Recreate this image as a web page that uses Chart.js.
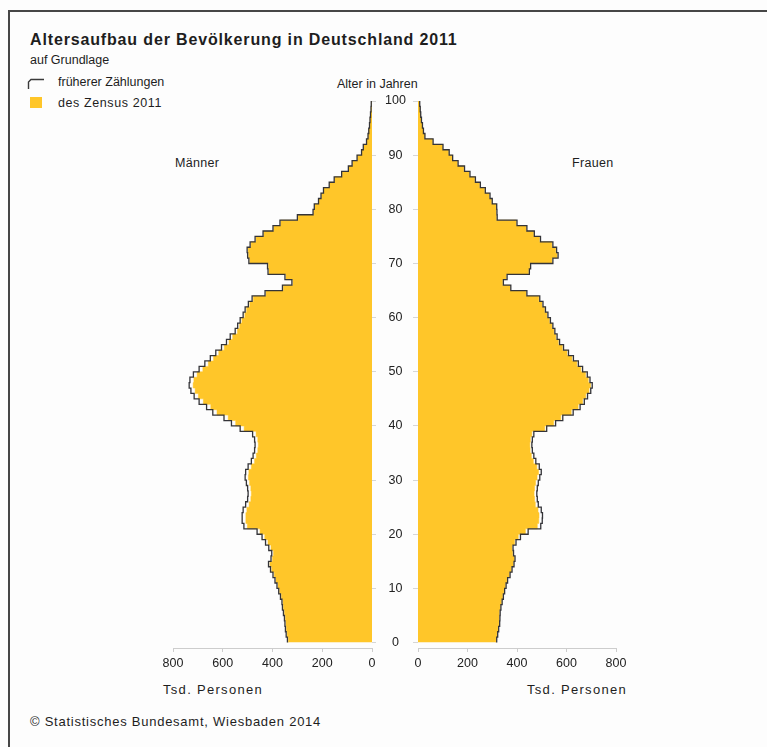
<!DOCTYPE html>
<html>
<head>
<meta charset="utf-8">
<script src="https://cdn.jsdelivr.net/npm/chart.js@4.4.1/dist/chart.umd.min.js"></script>
<style>
	body { margin: 0; background: #ffffff; }
	#page {
		position: relative;
		width: 767px;
		height: 747px;
		background: #fdfdfd;
		overflow: hidden;
		font-family: "Liberation Sans", Arial, sans-serif;
		color: #1e1e1e;
	}
	.frame-top { position: absolute; left: 8px; top: 10px; width: 759px; height: 2px; background: #474747; }
	.frame-left { position: absolute; left: 8px; top: 10px; width: 2px; height: 737px; background: #474747; }
	.txt { position: absolute; white-space: nowrap; font-size: 12.5px; line-height: 14px; }
	.title { font-size: 16px; font-weight: bold; line-height: 18px; letter-spacing: 0.85px; }
	.swatch { position: absolute; left: 30px; top: 97px; width: 12px; height: 11px; background: #ffc629; }
	canvas { position: absolute; }
</style>
</head>
<body>
<div id="page">
	<div class="frame-top"></div>
	<div class="frame-left"></div>

	<div class="txt title" style="left:30px; top:31px;">Altersaufbau der Bevölkerung in Deutschland 2011</div>
	<div class="txt" style="left:30px; top:53px;">auf Grundlage</div>

	<svg style="position:absolute; left:27px; top:76px;" width="18" height="14">
		<polyline points="1.5,13 1.5,6 4,3.5 17,3.5" fill="none" stroke="#3a3a3a" stroke-width="1.4" />
	</svg>
	<div class="txt" style="left:58px; top:75px;">früherer Zählungen</div>
	<div class="swatch"></div>
	<div class="txt" style="left:58px; top:96px; letter-spacing:0.6px;">des Zensus 2011</div>

	<div class="txt" style="left:337px; top:77px;">Alter in Jahren</div>
	<div class="txt" style="left:175px; top:156px; letter-spacing:0.3px;">Männer</div>
	<div class="txt" style="left:572px; top:156px; letter-spacing:0.3px;">Frauen</div>

	<div class="txt" style="left:163px; top:683px; font-size:13px; letter-spacing:1.3px;">Tsd. Personen</div>
	<div class="txt" style="left:527px; top:683px; font-size:13px; letter-spacing:1.3px;">Tsd. Personen</div>

	<div class="txt" style="left:30px; top:715px; font-size:13px; letter-spacing:0.75px;">© Statistisches Bundesamt, Wiesbaden 2014</div>

	<canvas id="pyramid-left" width="298" height="600" style="left:120px; top:80px;"></canvas>
	<canvas id="pyramid-right" width="260" height="600" style="left:400px; top:80px;"></canvas>
</div>

<script>
// Age bands 0..99, values in thousand persons (Tsd. Personen)
const maennerFrueher = [
	340, 345, 348, 350, 352, 356, 360, 362, 368, 375,
	382, 390, 398, 408, 416, 406, 403, 415, 428, 442,
	462, 515, 522, 522, 518, 508, 500, 498, 500, 505,
	510, 508, 498, 485, 478, 472, 470, 472, 480, 530,
	565, 595, 640, 665, 695, 715, 728, 735, 732, 718,
	695, 672, 650, 628, 605, 585, 570, 550, 540, 530,
	518, 510, 497, 482, 430, 360, 322, 350, 418, 420,
	495, 500, 502, 490, 470, 438, 398, 370, 300, 237,
	232, 215, 205, 195, 172, 152, 122, 95, 80, 60,
	42, 35, 22, 16, 13, 10, 8, 6, 4, 3,
];
const maennerZensus = [
	336, 341, 344, 346, 348, 352, 356, 358, 364, 371,
	378, 386, 393, 403, 410, 400, 396, 406, 418, 431,
	450, 501, 507, 507, 503, 494, 487, 485, 487, 492,
	497, 495, 485, 472, 465, 459, 457, 459, 466, 514,
	548, 578, 623, 648, 678, 698, 711, 719, 716, 703,
	680, 658, 637, 616, 594, 575, 560, 541, 532, 523,
	511, 504, 491, 477, 426, 356, 318, 346, 414, 416,
	491, 496, 498, 486, 466, 435, 395, 367, 297, 235,
	230, 213, 203, 193, 170, 150, 120, 93, 78, 58,
	41, 34, 21, 15, 12, 9, 7, 5, 3, 2,
];
const frauenFrueher = [
	318, 322, 326, 330, 331, 332, 335, 340, 345, 350,
	356, 362, 372, 380, 388, 392, 386, 384, 396, 414,
	445, 496, 502, 503, 498, 486, 482, 480, 482, 486,
	492, 498, 490, 476, 468, 462, 460, 462, 468, 520,
	556, 585, 627, 655, 672, 685, 698, 704, 695, 684,
	665, 648, 628, 608, 588, 572, 562, 553, 545, 535,
	525, 515, 505, 492, 440, 375, 345, 360, 450, 455,
	545, 566, 560, 545, 495, 470, 440, 400, 320, 319,
	318, 300, 291, 272, 252, 232, 210, 188, 162, 140,
	126, 101, 61, 28, 22, 18, 14, 11, 9, 7,
];
const frauenZensus = [
	315, 319, 323, 327, 328, 329, 332, 337, 342, 347,
	353, 359, 369, 377, 385, 389, 382, 380, 390, 405,
	434, 482, 488, 489, 485, 474, 471, 469, 471, 475,
	481, 487, 480, 466, 458, 453, 452, 454, 460, 512,
	548, 577, 619, 647, 665, 678, 691, 697, 688, 677,
	658, 642, 622, 602, 583, 567, 557, 549, 541, 531,
	521, 511, 501, 488, 437, 372, 342, 357, 447, 452,
	541, 562, 556, 541, 491, 467, 437, 397, 317, 316,
	315, 297, 288, 269, 249, 229, 207, 185, 159, 137,
	124, 99, 59, 27, 21, 17, 13, 10, 8, 6,
];

const ageTicks = [0, 10, 20, 30, 40, 50, 60, 70, 80, 90, 100];
const valueTicks = [0, 200, 400, 600, 800];

const colorZensus = "#ffc629";
const colorFrueher = "#343438";
const colorAxis = "#cdcdcd";

Chart.defaults.font.family = '"Liberation Sans", Arial, sans-serif';
Chart.defaults.font.size = 12.5;
Chart.defaults.color = "#222222";

// one point per band edge, drawn as a staircase (horizontal step first, then vertical edge)
function stepPoints(values) {
	let pts = [{ x: values[0], y: 0 }];
	values.forEach((v, age) => pts.push({ x: v, y: age + 1 }));
	return pts;
}

function setTicks(list) {
	return (scale) => {
		scale.ticks = list.map((v) => ({ value: v }));
	};
}

function buildSide(canvasId, frueher, zensus, isLeft) {
	let ctx = document.getElementById(canvasId).getContext("2d");

	let yAxis = {
		type: "linear",
		min: -1,
		max: 100,
		position: isLeft ? "right" : "left",
		afterBuildTicks: setTicks(ageTicks),
		afterFit: (scale) => {
			scale.width = isLeft ? 46 : 18;
		},
		border: { display: false },
		grid: {
			drawOnChartArea: false,
			drawTicks: true,
			tickLength: isLeft ? 4 : 5,
			color: "#d6d6d6",
		},
		ticks: {
			display: isLeft,
			crossAlign: "center",
			padding: 9,
			color: "#222222",
		},
	};

	let xAxis = {
		type: "linear",
		min: 0,
		max: 800,
		reverse: isLeft,
		position: "bottom",
		afterBuildTicks: setTicks(valueTicks),
		afterFit: (scale) => {
			scale.height = 30;
		},
		border: { display: true, color: colorAxis },
		grid: {
			drawOnChartArea: false,
			drawTicks: true,
			tickLength: 4,
			color: colorAxis,
		},
		ticks: {
			autoSkip: false,
			maxRotation: 0,
			padding: 4,
			color: "#222222",
		},
	};

	return new Chart(ctx, {
		type: "line",
		data: {
			datasets: [
				{
					label: "früherer Zählungen",
					data: stepPoints(frueher),
					borderColor: colorFrueher,
					borderWidth: 1.3,
					stepped: true,
					fill: false,
					pointRadius: 0,
				},
				{
					label: "des Zensus 2011",
					data: stepPoints(zensus),
					borderColor: colorZensus,
					backgroundColor: colorZensus,
					borderWidth: 0.5,
					stepped: true,
					fill: "origin",
					pointRadius: 0,
				},
			],
		},
		options: {
			responsive: false,
			animation: false,
			indexAxis: "y",
			layout: {
				padding: isLeft
					? { left: 53, right: 0, top: 21, bottom: 2 }
					: { left: 0, right: 44, top: 21, bottom: 2 },
			},
			scales: { x: xAxis, y: yAxis },
			plugins: {
				legend: { display: false },
				tooltip: { enabled: false },
				title: { display: false },
			},
		},
	});
}

buildSide("pyramid-left", maennerFrueher, maennerZensus, true);
buildSide("pyramid-right", frauenFrueher, frauenZensus, false);
</script>
</body>
</html>
